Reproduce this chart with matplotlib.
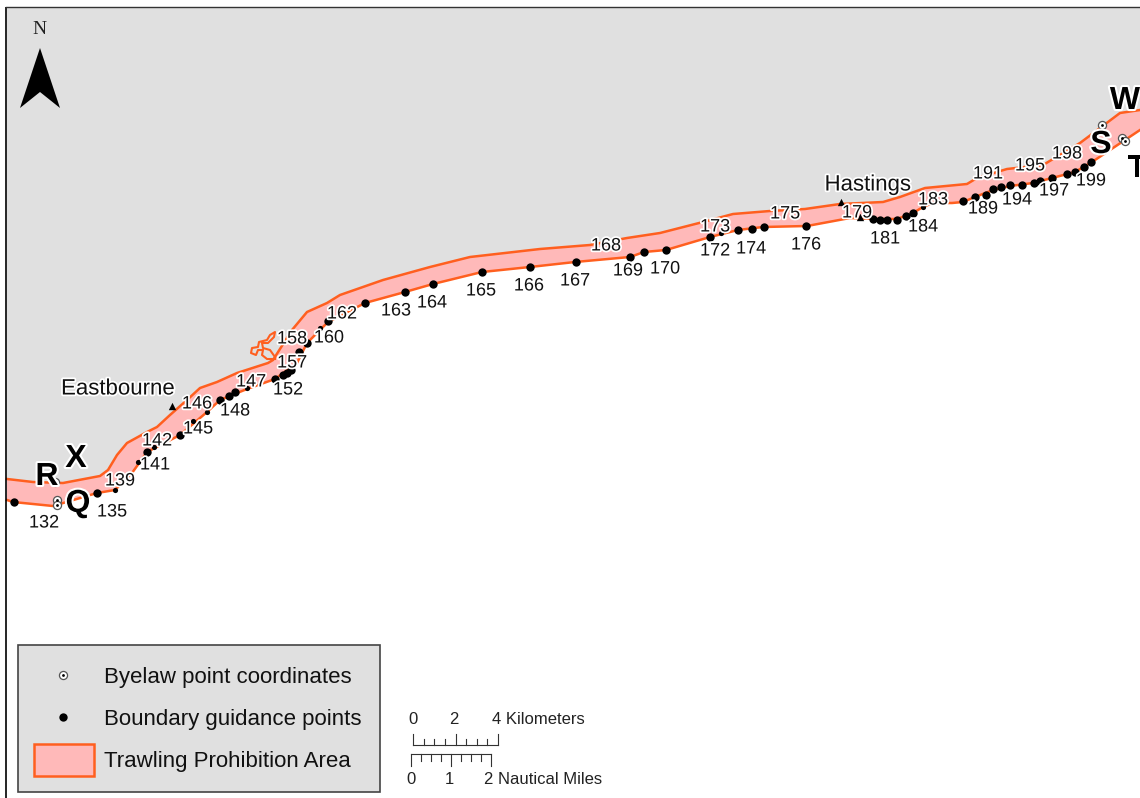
import matplotlib
matplotlib.use("Agg")
import matplotlib.pyplot as plt
import matplotlib.patheffects as pe
from matplotlib.patches import Rectangle, Polygon

plt.rcParams["font.family"] = ["Liberation Sans", "DejaVu Sans"]

north_x = [7, 33, 63, 100, 108, 117, 127, 147, 157, 170, 187, 200, 217, 237, 268, 273, 292, 307, 327, 340, 383, 430,
           470, 540, 590, 627, 660, 703, 733, 770, 805, 840, 883, 900, 925, 967, 977, 1007, 1043, 1080, 1120, 1140]
north_y = [479, 482, 483, 476, 470, 455, 443, 432, 427, 415, 400, 388, 382, 373, 363, 360, 330, 312, 303, 295, 280,
           267, 257, 249, 245, 238, 233, 222, 214, 211, 209, 204, 202, 197, 188, 184, 178, 169, 165, 143, 113, 110]
south_x = [7, 13, 53, 97, 115, 132, 147, 180, 207, 220, 247, 275, 297, 307, 328, 365, 405, 433, 482, 530, 575, 630,
           644, 666, 710, 738, 763, 807, 850, 875, 897, 913, 923, 933, 952, 963, 975, 993, 1010, 1033, 1052, 1075,
           1092, 1113, 1140]
south_y = [500, 502, 506, 493, 490, 473, 452, 435, 412, 400, 389, 379, 363, 343, 322, 303, 292, 284, 272, 267, 262,
           257, 252, 250, 237, 230, 227, 226, 218, 219, 219, 213, 207, 203, 203, 202, 197, 190, 186, 183, 178, 172,
           162, 148, 130]
loop_x = [275, 267, 262, 263, 258, 256, 251, 252, 258, 259, 267, 270, 275, 274, 268, 262, 263, 270, 275]
loop_y = [359, 359, 355, 350, 350, 355, 353, 348, 347, 342, 340, 335, 332, 337, 343, 343, 348, 350, 357]

guide_x = [14, 97, 147, 180, 220, 229, 235, 275, 283, 287, 291, 299, 307, 328, 365, 405, 433, 482, 530, 576, 630, 644,
           666, 710, 738, 752, 764, 806, 873, 880, 887, 897, 906, 913, 963, 975, 986, 993, 1001, 1010, 1022, 1034,
           1040, 1052, 1067, 1075, 1084, 1091]
guide_y = [502, 493, 452, 435, 400, 396, 392, 379, 375, 373, 370, 352, 343, 321, 303, 292, 284, 272, 267, 262, 257,
           252, 250, 237, 230, 229, 227, 226, 219, 220, 220, 220, 216, 213, 201, 197, 195, 189, 187, 185, 185, 183,
           181, 178, 174, 172, 167, 162]
small_x = [115, 138, 154, 193, 207, 247, 320, 721, 923]
small_y = [490, 462, 447, 421, 412, 388, 328, 233, 207]
byelaw_x = [57, 57, 55, 1102, 1122, 1125]
byelaw_y = [500, 505, 482, 125, 138, 141]
town_x = [172, 841, 860]
town_y = [406, 202, 217]

point_labels = ["132", "135", "139", "141", "142", "145", "146", "147", "148", "152", "157", "158", "160", "162",
                "163", "164", "165", "166", "167", "168", "169", "170", "172", "173", "174", "175", "176", "179",
                "181", "183", "184", "189", "191", "194", "195", "197", "198", "199"]
label_x = [44, 112, 120, 155, 157, 198, 197, 251, 235, 288, 292, 292, 329, 342, 396, 432, 481, 529, 575, 606, 628,
           665, 715, 715, 751, 785, 806, 857, 885, 933, 923, 983, 988, 1017, 1030, 1054, 1067, 1091]
label_y = [522, 511, 480, 464, 440, 428, 403, 381, 410, 389, 362, 338, 337, 313, 310, 302, 290, 285, 280, 245, 270,
           268, 250, 226, 248, 213, 244, 212, 238, 199, 226, 208, 173, 199, 165, 190, 153, 180]
letters = ["R", "X", "Q", "S", "W", "T"]
letter_x = [47, 76, 78, 1101, 1125, 1137]
letter_y = [476, 458, 503, 144, 100, 168]
towns = ["Eastbourne", "Hastings"]
towns_x = [118, 868]
towns_y = [388, 184]

legend_labels = ["Byelaw point coordinates", "Boundary guidance points", "Trawling Prohibition Area"]
km_ticks = ["0", "2", "4 Kilometers"]
nm_ticks = ["0", "1", "2 Nautical Miles"]

LAND = "#e0e0e0"
FILL = "#ffb9b9"
EDGE = "#ff5f1f"

fig = plt.figure(figsize=(11.4, 7.98), dpi=100)
ax = fig.add_axes([0, 0, 1, 1])
ax.set_xlim(0, 1140)
ax.set_ylim(798, 0)
ax.axis("off")

halo = [pe.withStroke(linewidth=2.5, foreground="white")]

# land, then the prohibition strip on top of it
land = list(zip(north_x, north_y)) + [(1140, 7), (7, 7)]
ax.add_patch(Polygon(land, facecolor=LAND, edgecolor="none", zorder=1))
strip = list(zip(north_x, north_y)) + list(zip(south_x, south_y))[::-1]
ax.add_patch(Polygon(strip, facecolor=FILL, edgecolor="none", zorder=2))
ax.plot(north_x, north_y, color=EDGE, lw=1.8, zorder=3)
ax.plot(south_x, south_y, color=EDGE, lw=1.8, zorder=3)
ax.plot(loop_x, loop_y, color=EDGE, lw=1.5, zorder=3)

# map frame, only left and top fall inside the picture
ax.plot([6, 6], [798, 7], color="black", lw=1.2, zorder=3, solid_capstyle="butt")
ax.plot([6, 1140], [7, 7], color="#333333", lw=1.0, zorder=3)

ax.scatter(guide_x, guide_y, s=36, color="black", zorder=4, linewidths=0)
ax.scatter(small_x, small_y, s=14, color="black", zorder=4, linewidths=0)
ax.scatter(byelaw_x, byelaw_y, s=34, facecolor="white", edgecolor="#555555", linewidths=0.9, zorder=4)
ax.scatter(byelaw_x, byelaw_y, s=4, color="black", zorder=5, linewidths=0)
ax.scatter(town_x, town_y, s=28, marker="^", color="black", zorder=4, linewidths=0)

for t, x, y in zip(point_labels, label_x, label_y):
    ax.text(x, y + 1, t, fontsize=13, ha="center", va="center", color="#111111", zorder=6, path_effects=halo)
for t, x, y in zip(towns, towns_x, towns_y):
    ax.text(x, y + 1, t, fontsize=16, ha="center", va="center", color="#111111", zorder=6, path_effects=halo)
for t, x, y in zip(letters, letter_x, letter_y):
    ax.text(x, y + 1, t, fontsize=23, fontweight="bold", ha="center", va="center", color="black", zorder=7,
            path_effects=[pe.withStroke(linewidth=3, foreground="white")], clip_on=True)

# north arrow
ax.text(39, 30, "N", fontsize=14, family="Liberation Serif", ha="center", va="center", color="#222222")
ax.add_patch(Polygon([(40, 48), (20, 108), (40, 92), (60, 108)], facecolor="black", edgecolor="none", zorder=5))

# legend box
ax.add_patch(Rectangle((18, 645), 362, 147, facecolor=LAND, edgecolor="#444444", lw=1.2, zorder=8))
ax.scatter([63], [675], s=34, facecolor="white", edgecolor="#555555", linewidths=0.9, zorder=9)
ax.scatter([63], [675], s=4, color="black", zorder=10, linewidths=0)
ax.scatter([63], [717], s=36, color="black", zorder=9, linewidths=0)
ax.add_patch(Rectangle((34, 744), 60, 32, facecolor=FILL, edgecolor=EDGE, lw=1.8, zorder=9))
for t, y in zip(legend_labels, [677, 720, 762]):
    ax.text(104, y, t, fontsize=16, ha="left", va="center", color="#111111", zorder=10)

# scale bars
for i in range(9):
    x = 413 + i * 85 / 8
    top = 734 if i in (0, 4, 8) else 739
    ax.plot([x, x], [745, top], color="#333333", lw=0.8, zorder=3)
ax.plot([413, 498], [745, 745], color="#333333", lw=0.8, zorder=3)
for i in range(9):
    x = 411 + i * 80 / 8
    bottom = 766 if i in (0, 4, 8) else 761
    ax.plot([x, x], [754, bottom], color="#333333", lw=0.8, zorder=3)
ax.plot([411, 491], [754, 754], color="#333333", lw=0.8, zorder=3)
for t, x in zip(km_ticks, [408, 449, 492]):
    ax.text(x, 719, t, fontsize=12, ha="left", va="center", color="#222222")
for t, x in zip(nm_ticks, [406, 445, 484]):
    ax.text(x, 780, t, fontsize=12, ha="left", va="center", color="#222222")

fig.savefig("out.png", dpi=100)
